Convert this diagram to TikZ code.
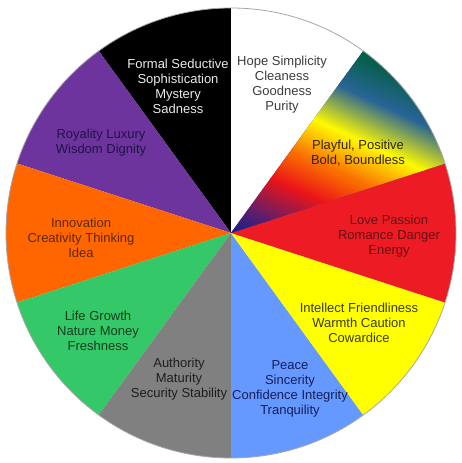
\documentclass[tikz,border=0pt]{standalone}
\usepackage{fontspec}
\setmainfont{Liberation Sans}
\definecolor{cblack}{RGB}{0,0,0}
\definecolor{cpurple}{RGB}{110,52,158}
\definecolor{corange}{RGB}{255,102,0}
\definecolor{cgreen}{RGB}{52,200,104}
\definecolor{cgray}{RGB}{128,128,128}
\definecolor{cblue}{RGB}{102,153,255}
\definecolor{cyellow}{RGB}{255,255,0}
\definecolor{cred}{RGB}{237,28,36}
\definecolor{g0}{RGB}{20,30,140}
\definecolor{g1}{RGB}{90,30,110}
\definecolor{g2}{RGB}{235,20,25}
\definecolor{g3}{RGB}{250,110,0}
\definecolor{g4}{RGB}{255,250,0}
\definecolor{g5}{RGB}{40,100,150}
\definecolor{g6}{RGB}{0,95,60}
\definecolor{tblack}{RGB}{235,235,235}
\definecolor{twhite}{RGB}{60,60,60}
\definecolor{tgrad}{RGB}{50,35,25}
\definecolor{tred}{RGB}{100,15,20}
\definecolor{tyellow}{RGB}{60,60,10}
\definecolor{tblue}{RGB}{20,30,90}
\definecolor{tgray}{RGB}{30,30,30}
\definecolor{tgreen}{RGB}{20,60,30}
\definecolor{torange}{RGB}{90,40,0}
\definecolor{tpurple}{RGB}{30,20,70}
\tikzset{
  lbl/.style={align=center, inner sep=0pt, font=\fontsize{13}{15}\selectfont},
}
\newcommand{\sector}[3]{\fill[#1] (C) -- ++(#2:225) arc[start angle=#2, end angle=#3, radius=225] -- cycle;}
\begin{document}
\begin{tikzpicture}[x=1pt,y=1pt]
\useasboundingbox (0,0) rectangle (462,463);
\coordinate (C) at (231,230);
\sector{cblack}{90}{126}
\sector{cpurple}{126}{162}
\sector{corange}{162}{198}
\sector{cgreen}{198}{234}
\sector{cgray}{234}{270}
\sector{cblue}{270}{306}
\sector{cyellow}{306}{342}
\sector{cred}{342}{378}
\sector{white}{54}{90}
\begin{scope}
  \clip (C) -- ++(18:225) arc[start angle=18, end angle=54, radius=225] -- cycle;
  \sector{g0}{18}{54}
  \begin{scope}[shift={(C)}, rotate=-25]
    \foreach \a/\b/\ca/\cb in {0/26/g0/g1, 26/66/g1/g2, 66/99/g2/g3, 99/137/g3/g4, 137/179/g4/g5, 179/221/g5/g6, 221/241/g6/g6} {
      \pgfmathtruncatemacro{\n}{(\b-\a)/2}
      \foreach \k in {0,...,\n} {
        \pgfmathsetmacro{\p}{100-100*\k/\n}
        \pgfmathsetmacro{\yy}{\a+2*\k}
        \fill[\ca!\p!\cb] (-240,\yy) rectangle (240,\yy+2.6);
      }
    }
  \end{scope}
\end{scope}
\draw[gray!70, line width=0.8pt] (C) circle[radius=225];
\node[lbl, text=tblack] (tb) at (178,377) {Formal Seductive\\Sophistication\\Mystery\\Sadness};
\node[lbl, text=twhite] (tw) at (282,378) {Hope Simplicity\\Cleaness\\Goodness\\Purity};
\node[lbl, text=tgrad] (tg) at (358,309.5) {Playful, Positive\\Bold, Boundless};
\node[lbl, text=tred] (tr) at (389,226.5) {Love Passion\\Romance Danger\\Energy};
\node[lbl, text=tyellow] (ty) at (359,140) {Intellect Friendliness\\Warmth Caution\\Cowardice};
\node[lbl, text=tblue] (tbl) at (290,74.5) {Peace\\Sincerity\\Confidence Integrity\\Tranquility};
\node[lbl, text=tgray] (tgy) at (179,83.5) {Authority\\Maturity\\Security Stability};
\node[lbl, text=tgreen] (tgn) at (98,132) {Life Growth\\Nature Money\\Freshness};
\node[lbl, text=torange] (to) at (81,225) {Innovation\\Creativity Thinking\\Idea};
\node[lbl, text=tpurple] (tp) at (101,320.5) {Royality Luxury\\Wisdom Dignity};
\end{tikzpicture}
\end{document}
